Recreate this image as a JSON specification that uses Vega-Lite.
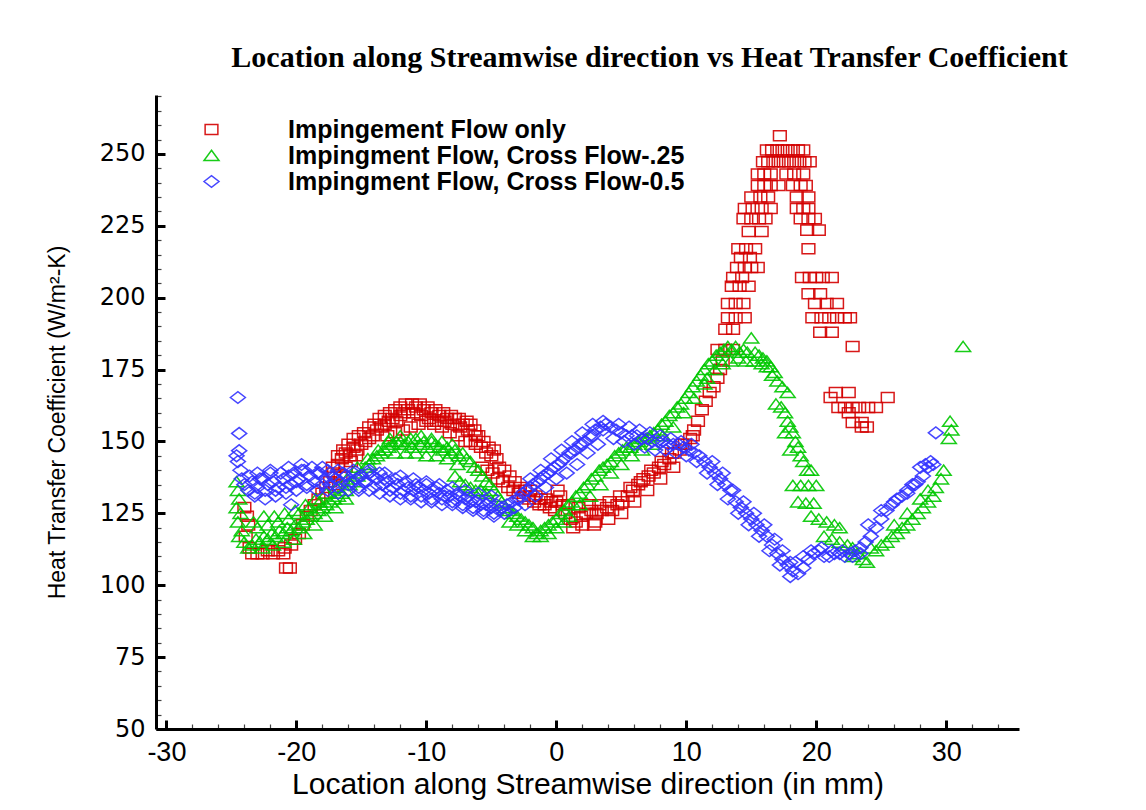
{
  "$schema": "https://vega.github.io/schema/vega-lite/v6.json",
  "width": 863,
  "height": 634,
  "autosize": {"type": "none"},
  "padding": {"left": 156, "top": 95, "right": 127, "bottom": 81},
  "background": "white",
  "title": {"text": "Location along Streamwise direction vs Heat Transfer Coefficient", "font": "Liberation Serif", "fontSize": 30, "fontWeight": "bold", "color": "black", "anchor": "middle", "frame": "group", "dx": 62, "dy": 40, "offset": 27, "baseline": "alphabetic"},
  "config": {"view": {"stroke": null}, "axis": {"grid": false}},
  "data": {"values": [
{"s":"a","x":-24.0,"y":127},{"s":"a","x":-23.8,"y":124},{"s":"a","x":-23.7,"y":121},{"s":"a","x":-23.9,"y":117},{"s":"a","x":-23.6,"y":113},{"s":"a","x":-23.4,"y":111},{"s":"a","x":-23.0,"y":111},{"s":"a","x":-22.6,"y":111},{"s":"a","x":-22.2,"y":112},{"s":"a","x":-21.8,"y":111},{"s":"a","x":-21.4,"y":112},{"s":"a","x":-21.0,"y":111},{"s":"a","x":-20.9,"y":113},{"s":"a","x":-20.8,"y":106},{"s":"a","x":-20.5,"y":106},{"s":"a","x":-20.4,"y":114},{"s":"a","x":-20.1,"y":116},{"s":"a","x":-19.8,"y":118},{"s":"a","x":-19.5,"y":121},{"s":"a","x":-19.2,"y":124},{"s":"a","x":-18.9,"y":126},{"s":"a","x":-18.6,"y":128},{"s":"a","x":-18.3,"y":130},{"s":"a","x":-18.0,"y":132},{"s":"a","x":-17.7,"y":134},{"s":"a","x":-17.4,"y":136},{"s":"a","x":-17.1,"y":139},{"s":"a","x":-16.8,"y":142},{"s":"a","x":-16.5,"y":144},{"s":"a","x":-16.2,"y":146},{"s":"a","x":-15.9,"y":145},{"s":"a","x":-15.6,"y":148},{"s":"a","x":-15.3,"y":147},{"s":"a","x":-15.0,"y":149},{"s":"a","x":-14.7,"y":150},{"s":"a","x":-14.4,"y":151},{"s":"a","x":-14.1,"y":152},{"s":"a","x":-13.8,"y":154},{"s":"a","x":-13.5,"y":155},{"s":"a","x":-13.2,"y":156},{"s":"a","x":-12.9,"y":157},{"s":"a","x":-12.6,"y":158},{"s":"a","x":-12.3,"y":157},{"s":"a","x":-12.0,"y":159},{"s":"a","x":-11.7,"y":160},{"s":"a","x":-11.4,"y":161},{"s":"a","x":-11.1,"y":163},{"s":"a","x":-10.8,"y":162},{"s":"a","x":-10.5,"y":163},{"s":"a","x":-10.2,"y":161},{"s":"a","x":-9.9,"y":162},{"s":"a","x":-9.6,"y":160},{"s":"a","x":-9.3,"y":161},{"s":"a","x":-9.0,"y":159},{"s":"a","x":-8.7,"y":160},{"s":"a","x":-8.4,"y":158},{"s":"a","x":-8.1,"y":159},{"s":"a","x":-7.8,"y":158},{"s":"a","x":-7.5,"y":158},{"s":"a","x":-7.2,"y":156},{"s":"a","x":-6.9,"y":157},{"s":"a","x":-6.6,"y":156},{"s":"a","x":-6.3,"y":154},{"s":"a","x":-6.0,"y":152},
{"s":"a","x":-13.0,"y":152},{"s":"a","x":-12.4,"y":153},{"s":"a","x":-11.8,"y":154},{"s":"a","x":-11.2,"y":155},{"s":"a","x":-10.6,"y":156},{"s":"a","x":-10.0,"y":157},{"s":"a","x":-9.4,"y":156},{"s":"a","x":-8.8,"y":155},{"s":"a","x":-8.2,"y":153},{"s":"a","x":-7.6,"y":152},{"s":"a","x":-7.0,"y":150},{"s":"a","x":-6.6,"y":150},{"s":"a","x":-6.2,"y":149},{"s":"a","x":-5.8,"y":148},{"s":"a","x":-5.4,"y":146},{"s":"a","x":-5.0,"y":145},{"s":"a","x":-4.6,"y":144},
{"s":"a","x":-17.2,"y":141},{"s":"a","x":-16.8,"y":145},{"s":"a","x":-16.4,"y":147},{"s":"a","x":-16.0,"y":149},{"s":"a","x":-15.6,"y":151},{"s":"a","x":-15.2,"y":152},{"s":"a","x":-14.8,"y":153},{"s":"a","x":-14.4,"y":155},{"s":"a","x":-14.0,"y":156},{"s":"a","x":-13.6,"y":158},{"s":"a","x":-13.2,"y":159},{"s":"a","x":-12.8,"y":160},{"s":"a","x":-12.4,"y":161},{"s":"a","x":-12.0,"y":162},{"s":"a","x":-11.6,"y":163},{"s":"a","x":-11.0,"y":160},{"s":"a","x":-10.4,"y":159},{"s":"a","x":-9.8,"y":158},{"s":"a","x":-9.2,"y":157},{"s":"a","x":-8.6,"y":157},{"s":"a","x":-8.0,"y":156},{"s":"a","x":-7.4,"y":155},{"s":"a","x":-6.8,"y":154},{"s":"a","x":-6.2,"y":152},{"s":"a","x":-5.6,"y":150},{"s":"a","x":-5.2,"y":148},{"s":"a","x":-4.8,"y":147},{"s":"a","x":-4.4,"y":141},{"s":"a","x":-4.0,"y":140},{"s":"a","x":-3.6,"y":138},{"s":"a","x":-3.2,"y":136},{"s":"a","x":-2.8,"y":134},{"s":"a","x":-2.4,"y":133},{"s":"a","x":-2.0,"y":133},{"s":"a","x":-1.6,"y":131},{"s":"a","x":-1.2,"y":130},{"s":"a","x":-0.8,"y":130},{"s":"a","x":-0.4,"y":129},{"s":"a","x":0.0,"y":129},{"s":"a","x":-17.0,"y":135},{"s":"a","x":-16.6,"y":138},{"s":"a","x":-16.2,"y":141},{"s":"a","x":-15.8,"y":143},{"s":"a","x":-15.4,"y":145},
{"s":"a","x":-5.7,"y":141},{"s":"a","x":-5.3,"y":140},{"s":"a","x":-4.9,"y":139},{"s":"a","x":-4.5,"y":137},{"s":"a","x":-4.1,"y":136},{"s":"a","x":-3.7,"y":134},{"s":"a","x":-3.3,"y":133},{"s":"a","x":-2.9,"y":132},{"s":"a","x":-2.5,"y":131},{"s":"a","x":-2.1,"y":130},{"s":"a","x":-1.7,"y":129},{"s":"a","x":-1.3,"y":128},{"s":"a","x":-0.9,"y":128},{"s":"a","x":-0.5,"y":127},{"s":"a","x":-0.1,"y":126},{"s":"a","x":0.3,"y":131},{"s":"a","x":0.5,"y":128},{"s":"a","x":0.7,"y":125},{"s":"a","x":1.1,"y":123},{"s":"a","x":1.5,"y":122},{"s":"a","x":1.9,"y":124},{"s":"a","x":2.3,"y":125},{"s":"a","x":2.7,"y":126},{"s":"a","x":3.1,"y":125},{"s":"a","x":3.5,"y":126},{"s":"a","x":3.9,"y":127},{"s":"a","x":4.3,"y":126},{"s":"a","x":4.7,"y":128},{"s":"a","x":5.1,"y":129},{"s":"a","x":5.5,"y":131},{"s":"a","x":5.9,"y":133},{"s":"a","x":6.3,"y":135},{"s":"a","x":6.7,"y":137},{"s":"a","x":7.1,"y":138},{"s":"a","x":7.5,"y":139},{"s":"a","x":7.9,"y":141},{"s":"a","x":8.3,"y":142},{"s":"a","x":8.7,"y":144},{"s":"a","x":9.1,"y":146},{"s":"a","x":9.5,"y":147},{"s":"a","x":9.9,"y":149},{"s":"a","x":10.3,"y":151},{"s":"a","x":10.6,"y":154},{"s":"a","x":10.9,"y":157},{"s":"a","x":11.2,"y":161},{"s":"a","x":11.5,"y":164},{"s":"a","x":11.8,"y":167},{"s":"a","x":12.1,"y":169},{"s":"a","x":12.4,"y":172},{"s":"a","x":12.6,"y":175},{"s":"a","x":12.8,"y":178},
{"s":"a","x":2.0,"y":121},{"s":"a","x":3.0,"y":122},{"s":"a","x":4.0,"y":123},{"s":"a","x":5.0,"y":125},{"s":"a","x":6.0,"y":129},{"s":"a","x":7.0,"y":133},{"s":"a","x":8.0,"y":137},{"s":"a","x":9.0,"y":141},
{"s":"a","x":0.9,"y":128},{"s":"a","x":1.7,"y":127},{"s":"a","x":2.5,"y":128},{"s":"a","x":3.3,"y":128},{"s":"a","x":4.1,"y":129},{"s":"a","x":4.9,"y":131},{"s":"a","x":5.7,"y":134},{"s":"a","x":6.5,"y":136},{"s":"a","x":7.3,"y":140},{"s":"a","x":8.1,"y":143},{"s":"a","x":8.9,"y":146},{"s":"a","x":9.7,"y":149},{"s":"a","x":10.5,"y":152},{"s":"a","x":0.1,"y":133},{"s":"a","x":1.3,"y":120},{"s":"a","x":2.9,"y":121},
{"s":"a","x":12.4,"y":182},{"s":"a","x":13.0,"y":182},{"s":"a","x":13.6,"y":182},{"s":"a","x":13.0,"y":189},{"s":"a","x":13.6,"y":189},{"s":"a","x":13.2,"y":193},{"s":"a","x":13.8,"y":193},{"s":"a","x":14.5,"y":193},{"s":"a","x":13.2,"y":198},{"s":"a","x":13.8,"y":198},{"s":"a","x":14.4,"y":198},{"s":"a","x":13.5,"y":204},{"s":"a","x":14.1,"y":204},{"s":"a","x":14.8,"y":204},{"s":"a","x":13.6,"y":207},{"s":"a","x":14.3,"y":207},{"s":"a","x":13.9,"y":210.5},{"s":"a","x":14.5,"y":210.5},{"s":"a","x":15.0,"y":210.5},{"s":"a","x":15.5,"y":210.5},{"s":"a","x":14.2,"y":214},{"s":"a","x":14.9,"y":214},{"s":"a","x":14.0,"y":217},{"s":"a","x":14.6,"y":217},{"s":"a","x":15.3,"y":217},{"s":"a","x":14.8,"y":223},{"s":"a","x":15.8,"y":223},{"s":"a","x":14.4,"y":227.5},{"s":"a","x":15.0,"y":227.5},{"s":"a","x":15.6,"y":227.5},{"s":"a","x":16.1,"y":227.5},{"s":"a","x":14.5,"y":231},{"s":"a","x":15.1,"y":231},{"s":"a","x":15.8,"y":231},{"s":"a","x":16.5,"y":231},{"s":"a","x":15.0,"y":235},{"s":"a","x":15.7,"y":235},{"s":"a","x":16.3,"y":235},{"s":"a","x":15.5,"y":239},{"s":"a","x":16.0,"y":239},{"s":"a","x":16.5,"y":239},{"s":"a","x":17.1,"y":239},{"s":"a","x":15.5,"y":243},{"s":"a","x":16.0,"y":243},{"s":"a","x":16.5,"y":243},{"s":"a","x":15.9,"y":247.3},{"s":"a","x":16.3,"y":247.3},{"s":"a","x":16.7,"y":247.3},{"s":"a","x":17.1,"y":247.3},{"s":"a","x":17.5,"y":247.3},{"s":"a","x":17.9,"y":247.3},{"s":"a","x":18.3,"y":247.3},{"s":"a","x":18.7,"y":247.3},{"s":"a","x":19.1,"y":247.3},{"s":"a","x":19.5,"y":247.3},{"s":"a","x":16.2,"y":251.4},{"s":"a","x":16.6,"y":251.4},{"s":"a","x":17.0,"y":251.4},{"s":"a","x":17.4,"y":251.4},{"s":"a","x":17.8,"y":251.4},{"s":"a","x":18.2,"y":251.4},{"s":"a","x":18.6,"y":251.4},{"s":"a","x":19.0,"y":251.4},{"s":"a","x":17.2,"y":256.3},
{"s":"a","x":17.7,"y":243},{"s":"a","x":18.3,"y":243},{"s":"a","x":19.0,"y":243},{"s":"a","x":18.2,"y":239},{"s":"a","x":18.8,"y":239},{"s":"a","x":19.2,"y":239},{"s":"a","x":18.5,"y":235},{"s":"a","x":19.4,"y":235},{"s":"a","x":18.5,"y":231},{"s":"a","x":19.0,"y":231},{"s":"a","x":19.4,"y":231},{"s":"a","x":18.8,"y":227.5},{"s":"a","x":19.4,"y":227.5},{"s":"a","x":19.9,"y":227.5},{"s":"a","x":19.3,"y":223.5},{"s":"a","x":20.2,"y":223.5},{"s":"a","x":19.4,"y":217},{"s":"a","x":18.9,"y":207},{"s":"a","x":19.5,"y":207},{"s":"a","x":20.0,"y":207},{"s":"a","x":20.5,"y":207},{"s":"a","x":21.2,"y":207},{"s":"a","x":19.4,"y":201.4},{"s":"a","x":20.3,"y":201.4},{"s":"a","x":19.9,"y":198},{"s":"a","x":20.8,"y":198},{"s":"a","x":21.6,"y":198},{"s":"a","x":19.7,"y":193},{"s":"a","x":20.4,"y":193},{"s":"a","x":21.0,"y":193},{"s":"a","x":21.6,"y":193},{"s":"a","x":22.2,"y":193},{"s":"a","x":22.6,"y":193},{"s":"a","x":20.3,"y":188},{"s":"a","x":21.2,"y":188},{"s":"a","x":22.8,"y":183},{"s":"a","x":21.5,"y":167},{"s":"a","x":22.5,"y":167},{"s":"a","x":21.1,"y":165.3},{"s":"a","x":25.5,"y":165.3},{"s":"a","x":21.7,"y":161.8},{"s":"a","x":22.2,"y":161.8},{"s":"a","x":22.8,"y":161.8},{"s":"a","x":23.3,"y":161.8},{"s":"a","x":24.0,"y":161.8},{"s":"a","x":24.6,"y":161.8},{"s":"a","x":22.5,"y":160},{"s":"a","x":22.8,"y":156.6},{"s":"a","x":23.5,"y":156.6},{"s":"a","x":23.5,"y":155},{"s":"a","x":23.9,"y":155},
{"s":"b","x":-24.6,"y":136},{"s":"b","x":-24.5,"y":133},{"s":"b","x":-24.4,"y":130},{"s":"b","x":-24.6,"y":127},{"s":"b","x":-24.3,"y":125},{"s":"b","x":-24.5,"y":122},{"s":"b","x":-24.2,"y":119},{"s":"b","x":-24.4,"y":117},{"s":"b","x":-24.0,"y":115},{"s":"b","x":-23.7,"y":113},{"s":"b","x":-23.4,"y":114},{"s":"b","x":-23.1,"y":116},{"s":"b","x":-22.8,"y":115},{"s":"b","x":-22.5,"y":117},{"s":"b","x":-22.2,"y":116},{"s":"b","x":-21.9,"y":118},{"s":"b","x":-21.6,"y":117},{"s":"b","x":-21.3,"y":119},{"s":"b","x":-21.0,"y":118},{"s":"b","x":-20.7,"y":120},{"s":"b","x":-20.4,"y":119},{"s":"b","x":-20.1,"y":121},{"s":"b","x":-19.8,"y":120},{"s":"b","x":-19.5,"y":122},{"s":"b","x":-19.2,"y":123},{"s":"b","x":-18.9,"y":124},{"s":"b","x":-18.6,"y":125},{"s":"b","x":-18.3,"y":126},{"s":"b","x":-18.0,"y":127},{"s":"b","x":-17.7,"y":128},{"s":"b","x":-17.4,"y":129},{"s":"b","x":-17.1,"y":130},{"s":"b","x":-16.8,"y":131},{"s":"b","x":-16.5,"y":132},{"s":"b","x":-16.2,"y":133},{"s":"b","x":-15.9,"y":135},{"s":"b","x":-15.6,"y":136},{"s":"b","x":-15.3,"y":138},{"s":"b","x":-15.0,"y":139},{"s":"b","x":-14.7,"y":141},{"s":"b","x":-14.4,"y":142},{"s":"b","x":-14.1,"y":144},{"s":"b","x":-13.8,"y":145},{"s":"b","x":-13.5,"y":146},{"s":"b","x":-13.2,"y":147},{"s":"b","x":-12.9,"y":148},{"s":"b","x":-12.6,"y":149},{"s":"b","x":-12.3,"y":150},{"s":"b","x":-12.0,"y":150},{"s":"b","x":-11.7,"y":149},{"s":"b","x":-11.4,"y":150},{"s":"b","x":-11.1,"y":148},{"s":"b","x":-10.8,"y":151},{"s":"b","x":-10.5,"y":149},{"s":"b","x":-10.2,"y":150},{"s":"b","x":-9.9,"y":148},{"s":"b","x":-9.6,"y":151},{"s":"b","x":-9.3,"y":149},{"s":"b","x":-9.0,"y":148},{"s":"b","x":-8.7,"y":147},{"s":"b","x":-8.4,"y":148},{"s":"b","x":-8.1,"y":146},{"s":"b","x":-7.8,"y":147},{"s":"b","x":-7.5,"y":145},{"s":"b","x":-7.2,"y":146},{"s":"b","x":-6.9,"y":144},{"s":"b","x":-6.6,"y":143},{"s":"b","x":-6.3,"y":141},{"s":"b","x":-6.0,"y":140},{"s":"b","x":-5.7,"y":138},{"s":"b","x":-5.4,"y":136},{"s":"b","x":-5.1,"y":135},{"s":"b","x":-4.8,"y":133},{"s":"b","x":-4.5,"y":131},{"s":"b","x":-4.2,"y":129},{"s":"b","x":-3.9,"y":127},{"s":"b","x":-3.6,"y":126},{"s":"b","x":-3.3,"y":125},{"s":"b","x":-3.0,"y":124},{"s":"b","x":-2.7,"y":123},{"s":"b","x":-2.4,"y":122},{"s":"b","x":-2.1,"y":121},{"s":"b","x":-1.8,"y":120},{"s":"b","x":-1.5,"y":118},{"s":"b","x":-1.2,"y":119},{"s":"b","x":-0.9,"y":120},{"s":"b","x":-0.6,"y":121},{"s":"b","x":-0.3,"y":122},{"s":"b","x":0.0,"y":123},{"s":"b","x":0.3,"y":125},{"s":"b","x":0.6,"y":126},{"s":"b","x":0.9,"y":128},{"s":"b","x":1.2,"y":129},{"s":"b","x":1.5,"y":131},{"s":"b","x":1.8,"y":132},{"s":"b","x":2.1,"y":134},{"s":"b","x":2.4,"y":135},{"s":"b","x":2.7,"y":137},{"s":"b","x":3.0,"y":138},{"s":"b","x":3.3,"y":140},{"s":"b","x":3.6,"y":141},{"s":"b","x":3.9,"y":142},{"s":"b","x":4.2,"y":143},{"s":"b","x":4.5,"y":145},{"s":"b","x":4.8,"y":146},{"s":"b","x":5.1,"y":147},{"s":"b","x":5.4,"y":148},{"s":"b","x":5.7,"y":148},{"s":"b","x":6.0,"y":149},{"s":"b","x":6.3,"y":150},{"s":"b","x":6.6,"y":151},{"s":"b","x":6.9,"y":151},{"s":"b","x":7.2,"y":152},{"s":"b","x":7.5,"y":153},{"s":"b","x":7.8,"y":154},{"s":"b","x":8.1,"y":156},{"s":"b","x":8.4,"y":157},{"s":"b","x":8.7,"y":159},{"s":"b","x":9.0,"y":160},{"s":"b","x":9.3,"y":162},{"s":"b","x":9.6,"y":163},{"s":"b","x":9.9,"y":165},{"s":"b","x":10.2,"y":167},{"s":"b","x":10.5,"y":169},{"s":"b","x":10.8,"y":171},{"s":"b","x":11.1,"y":173},{"s":"b","x":11.4,"y":175},{"s":"b","x":11.7,"y":177},{"s":"b","x":12.0,"y":178},{"s":"b","x":12.3,"y":180},{"s":"b","x":12.6,"y":181},{"s":"b","x":12.9,"y":182},{"s":"b","x":13.2,"y":183},{"s":"b","x":13.5,"y":182},{"s":"b","x":13.8,"y":183},{"s":"b","x":14.1,"y":181},{"s":"b","x":14.4,"y":182},{"s":"b","x":14.7,"y":181},{"s":"b","x":15.0,"y":186},{"s":"b","x":15.3,"y":181},{"s":"b","x":15.6,"y":180},{"s":"b","x":15.9,"y":179},{"s":"b","x":16.2,"y":178},{"s":"b","x":16.5,"y":176},{"s":"b","x":16.8,"y":174},
{"s":"b","x":-22.6,"y":113},{"s":"b","x":-21.8,"y":114},{"s":"b","x":-21.0,"y":115},{"s":"b","x":-20.2,"y":116},{"s":"b","x":-19.4,"y":118},{"s":"b","x":-18.6,"y":121},{"s":"b","x":-17.8,"y":124},{"s":"b","x":-17.0,"y":127},{"s":"b","x":-16.2,"y":130},{"s":"b","x":-23.0,"y":120},{"s":"b","x":-22.2,"y":121},{"s":"b","x":-21.4,"y":122},{"s":"b","x":-20.6,"y":123},{"s":"b","x":-19.8,"y":125},{"s":"b","x":-19.0,"y":127},{"s":"b","x":-18.2,"y":129},
{"s":"b","x":-23.3,"y":122},{"s":"b","x":-22.5,"y":124},{"s":"b","x":-21.7,"y":124},{"s":"b","x":-20.9,"y":125},{"s":"b","x":-20.1,"y":126},{"s":"b","x":-19.3,"y":128},{"s":"b","x":-18.5,"y":130},{"s":"b","x":-17.7,"y":132},{"s":"b","x":-16.9,"y":134},{"s":"b","x":-16.1,"y":137},{"s":"b","x":-15.3,"y":141},{"s":"b","x":-14.5,"y":144},{"s":"b","x":-13.7,"y":147},{"s":"b","x":-12.9,"y":150},
{"s":"b","x":-12.8,"y":151},{"s":"b","x":-12.0,"y":152},{"s":"b","x":-11.2,"y":151},{"s":"b","x":-10.4,"y":152},{"s":"b","x":-9.6,"y":150},{"s":"b","x":-8.8,"y":150},{"s":"b","x":-8.0,"y":149},
{"s":"b","x":-12.4,"y":146},{"s":"b","x":-11.6,"y":146},{"s":"b","x":-10.8,"y":146},{"s":"b","x":-10.0,"y":145},{"s":"b","x":-9.2,"y":145},{"s":"b","x":-8.4,"y":144},{"s":"b","x":-7.6,"y":142},{"s":"b","x":-7.8,"y":138},{"s":"b","x":-7.4,"y":136},{"s":"b","x":-7.0,"y":135},{"s":"b","x":-6.6,"y":134},{"s":"b","x":-6.2,"y":133},{"s":"b","x":-5.8,"y":133},{"s":"b","x":-5.4,"y":132},
{"s":"b","x":-3.6,"y":122},{"s":"b","x":-3.0,"y":121},{"s":"b","x":-2.4,"y":119},{"s":"b","x":-1.8,"y":117},{"s":"b","x":-1.2,"y":117},{"s":"b","x":-0.6,"y":118},{"s":"b","x":0.0,"y":120},{"s":"b","x":0.6,"y":122},
{"s":"b","x":1.0,"y":124},{"s":"b","x":1.8,"y":128},{"s":"b","x":2.6,"y":131},{"s":"b","x":3.4,"y":135},{"s":"b","x":4.2,"y":139},{"s":"b","x":5.0,"y":142},{"s":"b","x":5.8,"y":145},{"s":"b","x":6.6,"y":147},{"s":"b","x":7.4,"y":149},{"s":"b","x":8.2,"y":152},{"s":"b","x":9.0,"y":155},{"s":"b","x":9.8,"y":160},{"s":"b","x":10.6,"y":165},{"s":"b","x":11.4,"y":170},
{"s":"b","x":11.6,"y":172},{"s":"b","x":12.2,"y":175},{"s":"b","x":12.8,"y":177},{"s":"b","x":13.4,"y":178},{"s":"b","x":14.0,"y":179},{"s":"b","x":14.6,"y":178},{"s":"b","x":15.2,"y":178},{"s":"b","x":15.8,"y":177},{"s":"b","x":16.2,"y":176},
{"s":"b","x":16.6,"y":173},{"s":"b","x":17.0,"y":171},{"s":"b","x":17.4,"y":169},{"s":"b","x":17.8,"y":167},{"s":"b","x":16.9,"y":163},{"s":"b","x":17.3,"y":162},{"s":"b","x":17.6,"y":160},{"s":"b","x":17.8,"y":157},{"s":"b","x":18.0,"y":155},{"s":"b","x":18.2,"y":153},{"s":"b","x":17.6,"y":153},{"s":"b","x":18.4,"y":150},{"s":"b","x":18.6,"y":148},{"s":"b","x":18.0,"y":147},{"s":"b","x":18.8,"y":145},{"s":"b","x":19.0,"y":143},{"s":"b","x":19.3,"y":140},{"s":"b","x":19.6,"y":140},{"s":"b","x":18.2,"y":134.7},{"s":"b","x":18.8,"y":134.7},{"s":"b","x":19.4,"y":134.7},{"s":"b","x":20.0,"y":134.7},{"s":"b","x":18.6,"y":129},{"s":"b","x":19.2,"y":128.5},{"s":"b","x":19.8,"y":128.5},{"s":"b","x":19.6,"y":124},{"s":"b","x":20.2,"y":123},{"s":"b","x":20.8,"y":122},{"s":"b","x":21.4,"y":121},{"s":"b","x":21.8,"y":120},{"s":"b","x":20.6,"y":117},{"s":"b","x":21.2,"y":116},{"s":"b","x":21.8,"y":115},{"s":"b","x":22.4,"y":114},{"s":"b","x":22.8,"y":113},{"s":"b","x":23.2,"y":111},{"s":"b","x":23.6,"y":109},{"s":"b","x":23.9,"y":108},{"s":"b","x":22.8,"y":110},{"s":"b","x":24.2,"y":113},{"s":"b","x":24.6,"y":112},{"s":"b","x":25.0,"y":114},{"s":"b","x":25.4,"y":115},{"s":"b","x":25.8,"y":117},{"s":"b","x":26.2,"y":118},{"s":"b","x":26.6,"y":120},{"s":"b","x":27.0,"y":121},{"s":"b","x":27.4,"y":123},{"s":"b","x":27.8,"y":125},{"s":"b","x":28.2,"y":127},{"s":"b","x":28.6,"y":129},{"s":"b","x":29.0,"y":131},{"s":"b","x":29.2,"y":134},{"s":"b","x":29.6,"y":137},{"s":"b","x":29.8,"y":140},{"s":"b","x":26.0,"y":121},{"s":"b","x":27.0,"y":125},{"s":"b","x":28.0,"y":130},{"s":"b","x":28.6,"y":133},{"s":"b","x":30.2,"y":151},{"s":"b","x":30.4,"y":154},{"s":"b","x":30.3,"y":157},{"s":"b","x":31.3,"y":183},
{"s":"c","x":-24.5,"y":165.3},{"s":"c","x":-24.4,"y":152.8},{"s":"c","x":-24.4,"y":146.8},{"s":"c","x":-24.6,"y":145},{"s":"c","x":-24.5,"y":143},{"s":"c","x":-24.3,"y":140},{"s":"c","x":-24.2,"y":137},{"s":"c","x":-24.0,"y":135},{"s":"c","x":-23.7,"y":133},{"s":"c","x":-23.4,"y":136},{"s":"c","x":-23.0,"y":134},{"s":"c","x":-22.6,"y":137},{"s":"c","x":-22.2,"y":135},{"s":"c","x":-21.8,"y":136},{"s":"c","x":-21.4,"y":134},{"s":"c","x":-21.0,"y":137},{"s":"c","x":-20.6,"y":138},{"s":"c","x":-20.2,"y":139},{"s":"c","x":-19.8,"y":137},{"s":"c","x":-19.4,"y":140},{"s":"c","x":-19.0,"y":138},{"s":"c","x":-18.6,"y":136},{"s":"c","x":-18.2,"y":139},{"s":"c","x":-17.8,"y":137},{"s":"c","x":-17.4,"y":135},{"s":"c","x":-17.0,"y":137},{"s":"c","x":-16.6,"y":136},{"s":"c","x":-16.2,"y":138},{"s":"c","x":-15.8,"y":136},{"s":"c","x":-15.4,"y":137},{"s":"c","x":-15.0,"y":138},{"s":"c","x":-14.6,"y":136},{"s":"c","x":-14.2,"y":138},{"s":"c","x":-13.8,"y":137},{"s":"c","x":-13.4,"y":135},{"s":"c","x":-13.0,"y":136},{"s":"c","x":-12.6,"y":134},{"s":"c","x":-12.2,"y":135},{"s":"c","x":-11.8,"y":133},{"s":"c","x":-11.4,"y":134},{"s":"c","x":-11.0,"y":133},{"s":"c","x":-10.6,"y":134},{"s":"c","x":-10.2,"y":133},{"s":"c","x":-9.8,"y":132},{"s":"c","x":-9.4,"y":133},{"s":"c","x":-9.0,"y":132},{"s":"c","x":-8.6,"y":131},{"s":"c","x":-8.2,"y":131},{"s":"c","x":-7.8,"y":130},{"s":"c","x":-7.4,"y":131},{"s":"c","x":-7.0,"y":130},{"s":"c","x":-6.6,"y":129},{"s":"c","x":-6.2,"y":129},{"s":"c","x":-5.8,"y":128},{"s":"c","x":-5.4,"y":128},{"s":"c","x":-5.0,"y":127},{"s":"c","x":-4.6,"y":128},{"s":"c","x":-4.2,"y":127},{"s":"c","x":-3.8,"y":128},{"s":"c","x":-3.4,"y":129},{"s":"c","x":-3.0,"y":130},{"s":"c","x":-2.6,"y":132},{"s":"c","x":-2.2,"y":133},{"s":"c","x":-1.8,"y":135},{"s":"c","x":-1.4,"y":136},{"s":"c","x":-1.0,"y":138},{"s":"c","x":-0.6,"y":139},{"s":"c","x":-0.2,"y":141},{"s":"c","x":0.2,"y":142},{"s":"c","x":0.6,"y":144},{"s":"c","x":1.0,"y":146},{"s":"c","x":1.4,"y":147},{"s":"c","x":1.8,"y":149},{"s":"c","x":2.2,"y":150},{"s":"c","x":2.6,"y":152},{"s":"c","x":3.0,"y":154},{"s":"c","x":3.4,"y":155},{"s":"c","x":3.8,"y":156},{"s":"c","x":4.2,"y":155},{"s":"c","x":4.6,"y":154},{"s":"c","x":5.0,"y":153},{"s":"c","x":5.4,"y":152},{"s":"c","x":5.8,"y":152},{"s":"c","x":6.2,"y":152},{"s":"c","x":6.6,"y":151},{"s":"c","x":7.0,"y":151},{"s":"c","x":7.4,"y":150},{"s":"c","x":7.8,"y":150},{"s":"c","x":8.2,"y":150},{"s":"c","x":8.6,"y":149},{"s":"c","x":9.0,"y":149},{"s":"c","x":9.4,"y":149},{"s":"c","x":9.8,"y":148},{"s":"c","x":10.2,"y":147},{"s":"c","x":10.6,"y":146},{"s":"c","x":11.0,"y":145},{"s":"c","x":11.4,"y":143},{"s":"c","x":11.8,"y":141},{"s":"c","x":12.2,"y":139},{"s":"c","x":12.6,"y":137},{"s":"c","x":13.0,"y":135},{"s":"c","x":13.4,"y":133},{"s":"c","x":13.8,"y":129},{"s":"c","x":14.2,"y":127},{"s":"c","x":14.6,"y":125},{"s":"c","x":15.0,"y":123},{"s":"c","x":15.4,"y":121},{"s":"c","x":15.8,"y":119},{"s":"c","x":16.2,"y":117},{"s":"c","x":16.6,"y":114},{"s":"c","x":17.0,"y":111},{"s":"c","x":17.4,"y":109},{"s":"c","x":17.8,"y":107},{"s":"c","x":18.2,"y":105},{"s":"c","x":18.6,"y":104},{"s":"c","x":19.0,"y":106},{"s":"c","x":19.4,"y":109},{"s":"c","x":19.8,"y":111},{"s":"c","x":20.2,"y":112},{"s":"c","x":20.6,"y":110},{"s":"c","x":21.0,"y":110},{"s":"c","x":21.4,"y":111},{"s":"c","x":21.8,"y":111},{"s":"c","x":22.2,"y":110},{"s":"c","x":22.6,"y":111},{"s":"c","x":23.0,"y":112},{"s":"c","x":23.4,"y":113},{"s":"c","x":23.8,"y":115},{"s":"c","x":24.2,"y":117},{"s":"c","x":24.6,"y":120},{"s":"c","x":25.0,"y":123},{"s":"c","x":25.4,"y":126},{"s":"c","x":25.8,"y":128},{"s":"c","x":26.2,"y":130},{"s":"c","x":26.6,"y":131},{"s":"c","x":27.0,"y":133},{"s":"c","x":27.4,"y":135},{"s":"c","x":27.8,"y":136},{"s":"c","x":28.2,"y":138},{"s":"c","x":28.6,"y":141},{"s":"c","x":29.0,"y":142},{"s":"c","x":29.2,"y":153},
{"s":"c","x":-23.2,"y":131},{"s":"c","x":-22.4,"y":130},{"s":"c","x":-21.6,"y":131},{"s":"c","x":-20.8,"y":132},{"s":"c","x":-20.4,"y":128},{"s":"c","x":-20.0,"y":133},{"s":"c","x":-19.2,"y":134},{"s":"c","x":-18.4,"y":133},{"s":"c","x":-17.6,"y":133},{"s":"c","x":-16.8,"y":132},{"s":"c","x":-16.0,"y":133},{"s":"c","x":-15.2,"y":133},{"s":"c","x":-14.4,"y":133},{"s":"c","x":-13.6,"y":132},{"s":"c","x":-12.8,"y":131},{"s":"c","x":-12.0,"y":130},{"s":"c","x":-11.2,"y":130},{"s":"c","x":-10.4,"y":129},{"s":"c","x":-9.6,"y":129},{"s":"c","x":-8.8,"y":128},{"s":"c","x":-8.0,"y":128},{"s":"c","x":-7.2,"y":127},{"s":"c","x":-6.4,"y":126},{"s":"c","x":-5.6,"y":125},{"s":"c","x":-4.8,"y":124},
{"s":"c","x":-23.0,"y":139},{"s":"c","x":-22.0,"y":140},{"s":"c","x":-20.6,"y":141},{"s":"c","x":-19.6,"y":142},{"s":"c","x":-18.0,"y":141},{"s":"c","x":-16.8,"y":140},{"s":"c","x":-15.6,"y":140},{"s":"c","x":-14.4,"y":140},{"s":"c","x":-13.2,"y":139},{"s":"c","x":-12.0,"y":138},{"s":"c","x":-11.0,"y":137},{"s":"c","x":-10.0,"y":136},{"s":"c","x":-9.0,"y":135},{"s":"c","x":-8.0,"y":134},{"s":"c","x":-7.0,"y":133},{"s":"c","x":-6.0,"y":132},{"s":"c","x":-5.0,"y":131},
{"s":"c","x":-23.6,"y":138},{"s":"c","x":-23.2,"y":132},{"s":"c","x":-22.8,"y":137},{"s":"c","x":-22.4,"y":133},{"s":"c","x":-22.0,"y":139},{"s":"c","x":-21.6,"y":133},{"s":"c","x":-21.2,"y":139},{"s":"c","x":-20.8,"y":134},{"s":"c","x":-20.4,"y":135},{"s":"c","x":-20.0,"y":136},{"s":"c","x":-19.6,"y":140},{"s":"c","x":-19.2,"y":135},{"s":"c","x":-18.8,"y":141},{"s":"c","x":-18.4,"y":139},{"s":"c","x":-18.0,"y":135},{"s":"c","x":-17.6,"y":140},{"s":"c","x":-17.2,"y":138},{"s":"c","x":-16.8,"y":134},{"s":"c","x":-16.4,"y":139},{"s":"c","x":-16.0,"y":135},{"s":"c","x":-15.6,"y":139},{"s":"c","x":-15.2,"y":134},{"s":"c","x":-14.8,"y":136},{"s":"c","x":-14.4,"y":139},{"s":"c","x":-14.0,"y":134},{"s":"c","x":-13.6,"y":139},{"s":"c","x":-13.2,"y":137},{"s":"c","x":-12.8,"y":133},{"s":"c","x":-12.4,"y":137},{"s":"c","x":-12.0,"y":132},{"s":"c","x":-11.6,"y":136},{"s":"c","x":-11.2,"y":131},{"s":"c","x":-10.8,"y":135},{"s":"c","x":-10.4,"y":131},{"s":"c","x":-10.0,"y":135},{"s":"c","x":-9.6,"y":130},{"s":"c","x":-9.2,"y":134},{"s":"c","x":-8.8,"y":130},{"s":"c","x":-8.4,"y":133},{"s":"c","x":-8.0,"y":129},{"s":"c","x":-7.6,"y":132},{"s":"c","x":-7.2,"y":128},{"s":"c","x":-6.8,"y":131},{"s":"c","x":-6.4,"y":127},{"s":"c","x":-6.0,"y":130},{"s":"c","x":-5.6,"y":126},{"s":"c","x":-5.2,"y":129},{"s":"c","x":-4.8,"y":125},{"s":"c","x":-4.4,"y":126},{"s":"c","x":-4.0,"y":125},{"s":"c","x":-3.6,"y":126},{"s":"c","x":-3.2,"y":127},
{"s":"c","x":-2.4,"y":128},{"s":"c","x":-1.6,"y":131},{"s":"c","x":-0.8,"y":134},{"s":"c","x":0.0,"y":137},{"s":"c","x":0.8,"y":139},{"s":"c","x":1.6,"y":142},{"s":"c","x":2.4,"y":146},{"s":"c","x":3.2,"y":149},{"s":"c","x":-2.0,"y":137},{"s":"c","x":-1.2,"y":140},{"s":"c","x":-0.4,"y":144},{"s":"c","x":0.4,"y":147},{"s":"c","x":1.2,"y":150},{"s":"c","x":2.0,"y":153},{"s":"c","x":2.8,"y":156},{"s":"c","x":3.6,"y":157},
{"s":"c","x":-2.8,"y":130},{"s":"c","x":-2.0,"y":134},{"s":"c","x":-1.2,"y":137},{"s":"c","x":-0.4,"y":140},{"s":"c","x":0.4,"y":143},{"s":"c","x":1.2,"y":146},{"s":"c","x":2.0,"y":149},{"s":"c","x":2.8,"y":152},{"s":"c","x":3.6,"y":154},
{"s":"c","x":4.4,"y":151},{"s":"c","x":5.2,"y":150},{"s":"c","x":6.0,"y":149},{"s":"c","x":6.8,"y":148},{"s":"c","x":7.6,"y":147},{"s":"c","x":8.4,"y":147},{"s":"c","x":9.2,"y":146},{"s":"c","x":10.0,"y":145},{"s":"c","x":10.8,"y":143},{"s":"c","x":11.6,"y":139},{"s":"c","x":12.4,"y":135},
{"s":"c","x":4.8,"y":156},{"s":"c","x":5.6,"y":155},{"s":"c","x":6.4,"y":154},{"s":"c","x":7.2,"y":153},{"s":"c","x":8.0,"y":152},{"s":"c","x":8.8,"y":151},{"s":"c","x":9.6,"y":150},{"s":"c","x":10.4,"y":149},
{"s":"c","x":12.0,"y":143},{"s":"c","x":12.8,"y":139},{"s":"c","x":13.6,"y":133},{"s":"c","x":14.4,"y":129},{"s":"c","x":15.2,"y":125},{"s":"c","x":16.0,"y":121},{"s":"c","x":16.8,"y":116},{"s":"c","x":17.4,"y":112},{"s":"c","x":18.0,"y":108},{"s":"c","x":13.2,"y":130},{"s":"c","x":14.0,"y":125},{"s":"c","x":14.8,"y":121},{"s":"c","x":15.6,"y":117},{"s":"c","x":16.4,"y":112},{"s":"c","x":17.2,"y":107},{"s":"c","x":18.0,"y":103},
{"s":"c","x":18.4,"y":108},{"s":"c","x":19.0,"y":110},{"s":"c","x":19.6,"y":112},{"s":"c","x":20.4,"y":113},{"s":"c","x":21.2,"y":112},{"s":"c","x":22.0,"y":112},{"s":"c","x":22.8,"y":110},{"s":"c","x":23.4,"y":111},
{"s":"c","x":24.0,"y":121},{"s":"c","x":25.0,"y":126},{"s":"c","x":26.0,"y":129},{"s":"c","x":27.0,"y":132},{"s":"c","x":27.6,"y":135},{"s":"c","x":28.0,"y":141},{"s":"c","x":28.4,"y":142},{"s":"c","x":28.8,"y":143}
  ]},
  "mark": {"type": "point", "filled": false, "strokeWidth": 1.5, "size": 225, "opacity": 0.9},
  "encoding": {
    "x": {"field": "x", "type": "quantitative",
      "scale": {"domain": [-30.8, 35.6], "nice": false, "zero": false},
      "axis": {
        "values": [-30,-28,-26,-24,-22,-20,-18,-16,-14,-12,-10,-8,-6,-4,-2,0,2,4,6,8,10,12,14,16,18,20,22,24,26,28,30,32,34],
        "labelExpr": "datum.value % 10 === 0 ? '' + datum.value : ''",
        "labelFlush": false, "labelOverlap": false,
        "tickSize": {"condition": {"test": "datum.value % 10 === 0", "value": -9}, "value": -5},
        "tickWidth": {"condition": {"test": "datum.value % 10 === 0", "value": 3}, "value": 1.2},
        "tickColor": {"condition": {"test": "datum.value % 10 === 0", "value": "black"}, "value": "#444444"},
        "domainColor": "black", "domainWidth": 3,
        "labelFont": "Liberation Sans", "labelFontSize": 27, "labelColor": "black", "labelPadding": 19,
        "title": "Location along Streamwise direction (in mm)", "titleFont": "Liberation Sans", "titleFontSize": 30, "titleFontWeight": "normal", "titleColor": "black",
        "titleX": 431.5, "titleY": 55, "titleBaseline": "middle", "titleAlign": "center"
      }},
    "y": {"field": "y", "type": "quantitative",
      "scale": {"domain": [50, 270.5], "nice": false, "zero": false},
      "axis": {
        "values": [50,55,60,65,70,75,80,85,90,95,100,105,110,115,120,125,130,135,140,145,150,155,160,165,170,175,180,185,190,195,200,205,210,215,220,225,230,235,240,245,250,255,260,265,270],
        "labelExpr": "datum.value % 25 === 0 ? '' + datum.value : ''",
        "labelFlush": false, "labelOverlap": false,
        "tickSize": {"condition": {"test": "datum.value % 25 === 0", "value": -9}, "value": -5},
        "tickWidth": {"condition": {"test": "datum.value % 25 === 0", "value": 3}, "value": 1.2},
        "tickColor": {"condition": {"test": "datum.value % 25 === 0", "value": "black"}, "value": "#444444"},
        "domainColor": "black", "domainWidth": 3,
        "labelFont": "DejaVu Sans", "labelFontSize": 24, "labelColor": "black", "labelPadding": 20,
        "title": "Heat Transfer Coefficient (W/m²-K)", "titleFont": "Liberation Sans", "titleFontSize": 23, "titleFontWeight": "normal", "titleColor": "black",
        "titleX": -99, "titleY": 327, "titleBaseline": "middle", "titleAlign": "center", "titleAngle": -90
      }},
    "color": {"field": "s", "type": "nominal",
      "scale": {"domain": ["a", "b", "c"], "range": ["#d40000", "#00c800", "#3333ff"]},
      "legend": {"orient": "none", "legendX": 43, "legendY": 22, "title": null, "padding": 0,
        "labelExpr": "datum.value == 'a' ? 'Impingement Flow only' : datum.value == 'b' ? 'Impingment Flow, Cross Flow-.25' : 'Impingment Flow, Cross Flow-0.5'",
        "labelFont": "Liberation Sans", "labelFontSize": 25, "labelFontWeight": "bold", "labelColor": "black", "labelLimit": 600, "labelOffset": 64,
        "rowPadding": -1, "symbolSize": 225, "symbolStrokeWidth": 1.5, "symbolFillColor": "transparent"}},
    "shape": {"field": "s", "type": "nominal",
      "scale": {"domain": ["a", "b", "c"], "range": ["M-0.85,-0.67H0.85V0.67H-0.85Z", "M0,-0.7L1,0.67H-1Z", "M-1,0L0,-0.78L1,0L0,0.78Z"]},
      "legend": {"orient": "none", "legendX": 43, "legendY": 22, "title": null, "padding": 0,
        "labelExpr": "datum.value == 'a' ? 'Impingement Flow only' : datum.value == 'b' ? 'Impingment Flow, Cross Flow-.25' : 'Impingment Flow, Cross Flow-0.5'",
        "labelFont": "Liberation Sans", "labelFontSize": 25, "labelFontWeight": "bold", "labelColor": "black", "labelLimit": 600, "labelOffset": 64,
        "rowPadding": -1, "symbolSize": 225, "symbolStrokeWidth": 1.5, "symbolFillColor": "transparent"}}
  }
}
